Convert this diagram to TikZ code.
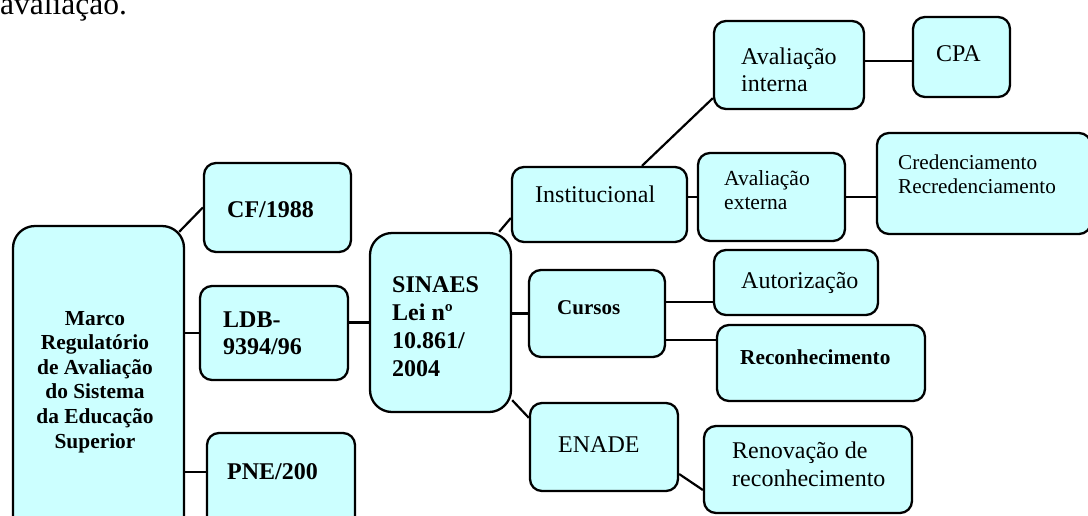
\documentclass[tikz,border=0pt]{standalone}
\usepackage{fontspec}
\setmainfont{Liberation Serif}
\usepackage{tikz}
\usetikzlibrary{calc,positioning}
\definecolor{ciano}{RGB}{204,255,255}
\tikzset{
  caixa/.style={
    draw,
    rectangle,
    rounded corners=12pt,
    fill=ciano,
    line width=2.3pt,
    inner sep=0pt,
  },
  caixagrande/.style={
    caixa,
    rounded corners=22pt,
  },
  rotulo/.style={
    anchor=base west,
    inner sep=0pt,
    align=left,
    font=\fontsize{24}{27}\selectfont,
  },
  rotulob/.style={
    rotulo,
    font=\fontsize{24}{27.7}\selectfont\bfseries,
  },
  liga/.style={line width=2.2pt},
}

\begin{document}
\begin{tikzpicture}[x=1pt,y=-1pt]
  \useasboundingbox[fill=white] (0,0) rectangle (1088,515);
  \node[rotulo,font=\fontsize{31.5}{36}\selectfont] (topo) at (0,14) {avaliação.};

  % caixas
  \node[caixagrande, minimum width=171, minimum height=318] (marco) at (98.5,385) {};
  \node[caixa, minimum width=147, minimum height=89] (cf) at (277.5,207.5) {};
  \node[caixa, minimum width=148, minimum height=94] (ldb) at (274,333) {};
  \node[caixa, minimum width=148, minimum height=111] (pne) at (281,488.5) {};
  \node[caixagrande, minimum width=141, minimum height=179] (sinaes) at (440.5,322.5) {};
  \node[caixa, minimum width=175, minimum height=75] (inst) at (599.5,204.5) {};
  \node[caixa, minimum width=136, minimum height=87] (cursos) at (597,313.5) {};
  \node[caixa, minimum width=148, minimum height=88] (enade) at (604,447) {};
  \node[caixa, minimum width=150, minimum height=88] (aint) at (789,65) {};
  \node[caixa, minimum width=97, minimum height=80] (cpa) at (961.5,57) {};
  \node[caixa, minimum width=147, minimum height=88] (aext) at (771.5,197) {};
  \node[caixa, minimum width=214, minimum height=101] (cred) at (984,183.5) {};
  \node[caixa, minimum width=164, minimum height=65] (aut) at (796,282.5) {};
  \node[caixa, minimum width=208, minimum height=76] (recon) at (821,363) {};
  \node[caixa, minimum width=208, minimum height=87] (renov) at (808,469.5) {};

  % textos (base = ultima linha)
  \node[rotulob, anchor=base, align=center, font=\fontsize{21.4}{24.6}\selectfont\bfseries]
    (marcotxt) at (95,448) {Marco\\Regulatório\\de Avaliação\\do Sistema\\da Educação\\Superior};
  \node[rotulob] (cftxt) at (227,217) {CF/1988};
  \node[rotulob, font=\fontsize{24}{27}\selectfont\bfseries] (ldbtxt) at (223,354) {LDB-\\9394/96};
  \node[rotulob] (pnetxt) at (227,479) {PNE/200};
  \node[rotulob] (sinaestxt) at (392,376) {SINAES\\Lei nº\\10.861/\\2004};
  \node[rotulo] (insttxt) at (535,202) {Institucional};
  \node[rotulo] (ainttxt) at (741,91) {Avaliação\\interna};
  \node[rotulo] (cpatxt) at (936,61) {CPA};
  \node[rotulo, font=\fontsize{21.5}{24}\selectfont] (aexttxt) at (724,209) {Avaliação\\externa};
  \node[rotulo, font=\fontsize{21.2}{24}\selectfont] (credtxt) at (898,193) {Credenciamento\\Recredenciamento};
  \node[rotulob, font=\fontsize{21}{24}\selectfont\bfseries] (cursostxt) at (557,314) {Cursos};
  \node[rotulo] (auttxt) at (741,288) {Autorização};
  \node[rotulob, font=\fontsize{21.3}{24}\selectfont\bfseries] (recontxt) at (740,364) {Reconhecimento};
  \node[rotulo] (enadetxt) at (558,452) {ENADE};
  \node[rotulo, font=\fontsize{24}{28}\selectfont] (renovtxt) at (732,486) {Renovação de\\reconhecimento};

  % ligacoes
  \draw[liga] ([xshift=-6pt,yshift=-7pt]marco.north east) -- (cf.west);
  \draw[liga] (ldb.west -| marco.east) -- (ldb.west);
  \draw[liga] ([yshift=16.5pt]pne.west -| marco.east) -- ([yshift=16.5pt]pne.west);
  \draw[liga] (sinaes.west -| ldb.east) -- (sinaes.west);
  \draw[liga] ([xshift=-13pt]sinaes.north east) -- ([yshift=-13.5pt]inst.west);
  \draw[liga] (cursos.west -| sinaes.east) -- (cursos.west);
  \draw[liga] ([yshift=13pt]sinaes.south east) -- ([yshift=-16pt]enade.north west);
  \draw[liga] ([xshift=42.5pt]inst.north) -- ([yshift=12pt]aint.south west);
  \draw[liga] (aext.west -| inst.east) -- (aext.west);
  \draw[liga] ([yshift=-4pt]cpa.west -| aint.east) -- ([yshift=-4pt]cpa.west);
  \draw[liga] (aext.east) -- (aext.east -| cred.west);
  \draw[liga] ([yshift=11.5pt]cursos.east) -- ([yshift=11.5pt]cursos.east -| aut.west);
  \draw[liga] ([yshift=-26.5pt]cursos.east) -- ([yshift=-26.5pt]cursos.east -| recon.west);
  \draw[liga] ([yshift=-27pt]enade.east) -- ([yshift=-20.5pt]renov.west);
\end{tikzpicture}
\end{document}
